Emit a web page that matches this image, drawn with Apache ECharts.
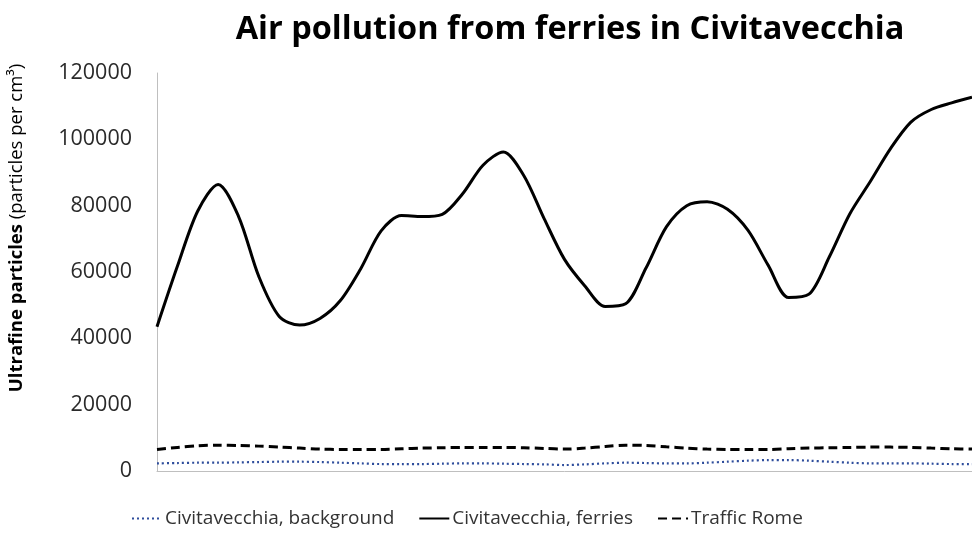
<!DOCTYPE html>
<html>
<head>
<meta charset="utf-8">
<script src="https://cdn.jsdelivr.net/npm/echarts@6/dist/echarts.min.js"></script>
<style>
  html, body { margin: 0; padding: 0; background: #fff; }
  #main { width: 972px; height: 539px; }
</style>
</head>
<body>
<div id="main"></div>
<script>
// measurement samples along the time axis (the original shows no x labels)
const samples = Array.from({ length: 41 }, (_, i) => String(i + 1));

const background = [2300, 2400, 2500, 2500, 2600, 2700, 2800, 2800, 2700, 2500, 2300, 2100, 2100, 2100,
  2200, 2300, 2300, 2200, 2100, 2000, 1800, 2000, 2300, 2500, 2400, 2300, 2300, 2500, 2800, 3100, 3300,
  3300, 3100, 2800, 2500, 2300, 2300, 2300, 2200, 2100, 2100];
const ferries = [43500, 61700, 78400, 86400, 76800, 58600, 46600, 44000, 46000, 51400, 61000, 72400, 77000,
  76700, 77400, 83600, 92200, 96200, 89100, 76100, 63800, 55800, 49600, 50400, 61200, 73600, 80000, 81200,
  78900, 72600, 62000, 52300, 53300, 64600, 77500, 87200, 97200, 105200, 109000, 111000, 112700];
const trafficRome = [6500, 7100, 7600, 7800, 7700, 7500, 7200, 6900, 6600, 6500, 6500, 6500, 6700, 6900,
  7000, 7100, 7100, 7100, 7000, 6800, 6600, 6900, 7400, 7800, 7700, 7300, 6900, 6600, 6500, 6500, 6500,
  6700, 6900, 7000, 7100, 7200, 7200, 7100, 6900, 6700, 6600];

const yTicks = [0, 20000, 40000, 60000, 80000, 100000, 120000];

const chart = echarts.init(document.getElementById('main'));

const option = {
  animation: false,
  textStyle: { fontFamily: 'Open Sans' },
  title: {
    text: 'Air pollution from ferries in Civitavecchia',
    left: 565,
    top: 8,
    textAlign: 'center',
    textStyle: { fontSize: 32.5, fontWeight: 'bold', color: '#000', fontFamily: 'Open Sans' }
  },
  grid: { left: 157, right: 0, top: 73, bottom: 68 },
  legend: {
    bottom: 6,
    left: 126,
    itemWidth: 30,
    itemHeight: 10,
    itemGap: 24,
    itemStyle: { opacity: 0 },
    textStyle: { fontSize: 19, color: '#333', padding: [0, 0, 0, -2] },
    data: ['Civitavecchia, background', 'Civitavecchia, ferries', 'Traffic Rome']
  },
  graphic: [{
    type: 'text',
    x: 17,
    y: 228,
    rotation: Math.PI / 2,
    style: {
      text: '{b|Ultrafine particles} (particles per cm³)',
      align: 'center',
      verticalAlign: 'middle',
      font: '18.5px "Open Sans"',
      fill: '#000',
      rich: { b: { fontSize: 18.5, fontWeight: 'bold', fontFamily: 'Open Sans', fill: '#000' } }
    }
  }],
  xAxis: {
    type: 'category',
    data: samples,
    boundaryGap: false,
    axisLine: { lineStyle: { color: '#bfbfbf', width: 1 } },
    axisTick: { show: false },
    axisLabel: { show: false }
  },
  yAxis: {
    type: 'value',
    min: yTicks[0],
    max: yTicks[yTicks.length - 1],
    interval: 20000,
    axisLine: { show: true, lineStyle: { color: '#bfbfbf' } },
    axisTick: { show: false },
    splitLine: { show: false },
    axisLabel: { fontSize: 21.5, color: '#2a2a2a', margin: 25, formatter: v => String(v) }
  },
  series: [
    {
      name: 'Civitavecchia, background',
      type: 'line',
      data: background,
      smooth: 0.3,
      symbol: 'none',
      lineStyle: { color: '#2e4d9c', width: 2.2, type: [2, 3] },
      itemStyle: { color: '#2e4d9c' }
    },
    {
      name: 'Civitavecchia, ferries',
      type: 'line',
      data: ferries,
      smooth: 0.3,
      symbol: 'none',
      lineStyle: { color: '#000', width: 3 },
      itemStyle: { color: '#000' }
    },
    {
      name: 'Traffic Rome',
      type: 'line',
      data: trafficRome,
      smooth: 0.3,
      symbol: 'none',
      lineStyle: { color: '#000', width: 3, type: [9, 5] },
      itemStyle: { color: '#000' }
    }
  ]
};

chart.setOption(option);
</script>
</body>
</html>
